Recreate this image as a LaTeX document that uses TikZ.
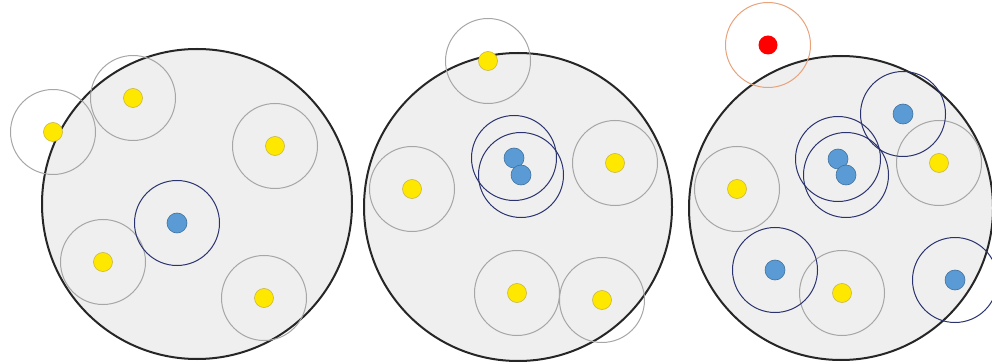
\documentclass[tikz,border=0pt]{standalone}
\usepackage{tikz}
\usepackage{xcolor}
\definecolor{CellGray}{HTML}{EFEFEF}
\definecolor{DotYellow}{HTML}{FFE800}
\definecolor{YellowEdge}{HTML}{C8B640}
\definecolor{DotBlue}{HTML}{5B9BD5}
\definecolor{BlueEdge}{HTML}{41719C}
\definecolor{DotRed}{HTML}{FF0000}
\definecolor{RingGray}{HTML}{A6A6A6}
\definecolor{RingNavy}{HTML}{2A336E}
\definecolor{RingOrange}{HTML}{E8A27C}

\begin{document}
\begin{tikzpicture}[x=1pt, y=-1pt,
    cell/.style={circle, draw=black!85, line width=2pt, fill=CellGray, inner sep=0pt},
    ring/.style={circle, draw=RingGray, line width=1pt, minimum size=85pt, inner sep=0pt},
    navyring/.style={ring, draw=RingNavy},
    orangering/.style={ring, draw=RingOrange},
    yellowdot/.style={circle, draw=YellowEdge, fill=DotYellow, line width=0.6pt, minimum size=19pt, inner sep=0pt},
    bluedot/.style={circle, draw=BlueEdge, fill=DotBlue, line width=0.6pt, minimum size=20pt, inner sep=0pt},
    reddot/.style={circle, fill=DotRed, minimum size=19pt, inner sep=0pt}]
    \useasboundingbox (0,0) rectangle (992,363);

    % Cells
    \node[cell, minimum size=310pt] (cellA) at (197,204) {};
    \node[cell, minimum size=308pt] (cellB) at (518,207) {};
    \node[cell, minimum size=304pt] (cellC) at (841,208) {};

    % Left cell: particles
    \node[yellowdot] (a1) at (53,132) {};
    \node[yellowdot] (a2) at (133,98) {};
    \node[yellowdot] (a3) at (275,146) {};
    \node[yellowdot] (a4) at (103,262) {};
    \node[yellowdot] (a5) at (264,298) {};
    \node[bluedot]   (a6) at (177,223) {};
    \foreach \p in {a1,a2,a3,a4,a5}
        \node[ring] at (\p) {};
    \node[navyring] at (a6) {};

    % Middle cell: particles
    \node[yellowdot] (b1) at (488,61) {};
    \node[yellowdot] (b2) at (412,189) {};
    \node[yellowdot] (b3) at (615,163) {};
    \node[yellowdot] (b4) at (517,293) {};
    \node[yellowdot] (b5) at (602,300) {};
    \node[bluedot]   (b6) at (514,158) {};
    \node[bluedot]   (b7) at (521,175) {};
    \foreach \p in {b1,b2,b3,b4,b5}
        \node[ring] at (\p) {};
    \node[navyring] at (b6) {};
    \node[navyring] at (b7) {};

    % Right cell: particles
    \node[reddot]    (c1) at (768,45) {};
    \node[bluedot]   (c2) at (903,114) {};
    \node[yellowdot] (c3) at (939,163) {};
    \node[bluedot]   (c4) at (838,159) {};
    \node[bluedot]   (c5) at (846,175) {};
    \node[yellowdot] (c6) at (737,189) {};
    \node[bluedot]   (c7) at (775,270) {};
    \node[yellowdot] (c8) at (842,293) {};
    \node[bluedot]   (c9) at (955,280) {};
    \node[orangering] at (c1) {};
    \foreach \p in {c3,c6,c8}
        \node[ring] at (\p) {};
    \foreach \p in {c2,c4,c5,c7,c9}
        \node[navyring] at (\p) {};

\end{tikzpicture}
\end{document}
